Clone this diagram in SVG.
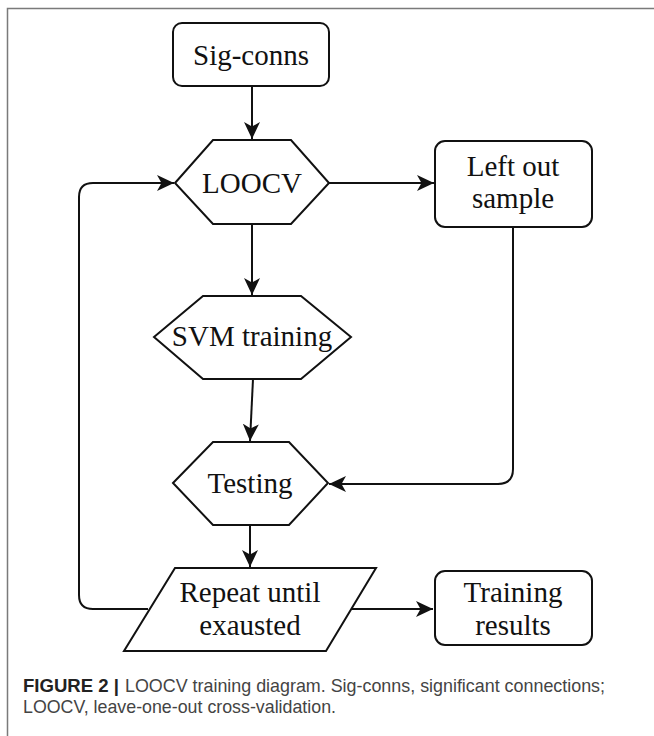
<svg xmlns="http://www.w3.org/2000/svg" width="654" height="736" viewBox="0 0 654 736">
<style>
.shape{fill:#fff;stroke:#111;stroke-width:2;stroke-linejoin:miter}
.lbl{font-family:"Liberation Serif","Times New Roman",serif;font-size:29px;fill:#111;text-anchor:middle}
.conn{fill:none;stroke:#111;stroke-width:2}
.cap{font-family:"Liberation Sans",Arial,sans-serif;font-size:18.5px;fill:#444}
.capb{font-family:"Liberation Sans",Arial,sans-serif;font-size:18.5px;font-weight:bold;fill:#222}
</style>
<defs>
<marker id="arr" markerUnits="userSpaceOnUse" markerWidth="20" markerHeight="18" refX="17" refY="8" orient="auto">
<path d="M0,0 L17,8 L0,16 L4.5,8 Z" fill="#111"/>
</marker>
</defs>
<rect width="654" height="736" fill="#fff"/>
<rect x="7.5" y="8.5" width="700" height="800" fill="none" stroke="#7a7a7a" stroke-width="1.5"/>
<g id="connectors">
<path class="conn" d="M252,86 L252,139" marker-end="url(#arr)"/>
<path class="conn" d="M329,183 L434,183" marker-end="url(#arr)"/>
<path class="conn" d="M252,224 L252,295" marker-end="url(#arr)"/>
<path class="conn" d="M253,379 L250,441" marker-end="url(#arr)"/>
<path class="conn" d="M513,227 L513,469 Q513,484 498,484 L329,484" marker-end="url(#arr)"/>
<path class="conn" d="M250,525 L250,567" marker-end="url(#arr)"/>
<path class="conn" d="M351,609 L433,609" marker-end="url(#arr)"/>
<path class="conn" d="M148,609 L93,609 Q79,609 79,595 L79,197 Q79,183 93,183 L174,183" marker-end="url(#arr)"/>
</g>
<g id="sigconns">
<rect class="shape" x="173" y="23" width="156" height="63" rx="9"/>
<text class="lbl" x="251" y="65">Sig-conns</text>
</g>
<g id="loocv">
<polygon class="shape" points="175,183 213,140 291,140 329,183 291,224 213,224"/>
<text class="lbl" x="252" y="193">LOOCV</text>
</g>
<g id="leftout">
<rect class="shape" x="435" y="141" width="157" height="86" rx="10"/>
<text class="lbl" x="513" y="176">Left out</text>
<text class="lbl" x="513" y="208">sample</text>
</g>
<g id="svm">
<polygon class="shape" points="154,337 203,296 301,296 351,337 301,379 203,379"/>
<text class="lbl" x="252" y="346">SVM training</text>
</g>
<g id="testing">
<polygon class="shape" points="173,483 213,442 289,442 328,483 289,525 213,525"/>
<text class="lbl" x="250" y="493">Testing</text>
</g>
<g id="repeat">
<polygon class="shape" points="175,568 376,568 326,651 124,651"/>
<text class="lbl" x="250" y="602">Repeat until</text>
<text class="lbl" x="250" y="635">exausted</text>
</g>
<g id="training">
<rect class="shape" x="435" y="571" width="157" height="74" rx="10"/>
<text class="lbl" x="513" y="602">Training</text>
<text class="lbl" x="513" y="635">results</text>
</g>
<g id="caption">
<text class="capb" x="23" y="692" textLength="96" lengthAdjust="spacingAndGlyphs">FIGURE 2 |</text>
<text class="cap" x="125" y="692" textLength="480" lengthAdjust="spacingAndGlyphs">LOOCV training diagram. Sig-conns, significant connections;</text>
<text class="cap" x="23" y="713" textLength="313" lengthAdjust="spacingAndGlyphs">LOOCV, leave-one-out cross-validation.</text>
</g>
</svg>
